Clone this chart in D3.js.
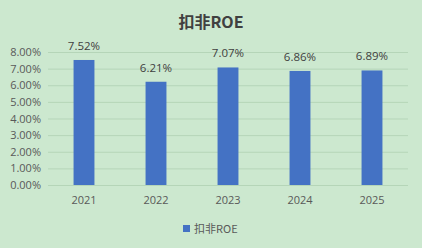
<!DOCTYPE html>
<html lang="zh">
<head>
<meta charset="utf-8">
<title>扣非ROE</title>
<script src="https://d3js.org/d3.v7.min.js"></script>
<style>
  body { margin: 0; background: #cce8cf; }
  svg { display: block; font-family: "Noto Sans CJK SC", "Open Sans", sans-serif; }
</style>
</head>
<body>
<svg id="chart" width="422" height="248"></svg>
<script>
// data
var years = ["2021", "2022", "2023", "2024", "2025"];
var roe = [7.52, 6.21, 7.07, 6.86, 6.89];
var yTicks = [0, 1, 2, 3, 4, 5, 6, 7, 8];

var svg = d3.select("#chart");
var w = 422, h = 248;
var plotLeft = 48, plotRight = 408, plotTop = 52, plotBottom = 185;

svg.append("rect").attr("width", w).attr("height", h).attr("fill", "#cce8cf");

var x = d3.scaleBand().domain(years).range([plotLeft, plotRight]).paddingInner(0.71).paddingOuter(0.355);
var y = d3.scaleLinear().domain([0, 8]).range([plotBottom, plotTop]);

// gridlines
svg.append("g")
  .selectAll("line")
  .data(yTicks)
  .enter()
  .append("line")
  .attr("x1", plotLeft).attr("x2", plotRight)
  .attr("y1", function(d) { return y(d) + 0.5; })
  .attr("y2", function(d) { return y(d) + 0.5; })
  .attr("stroke", "#b5d5b8")
  .attr("stroke-width", 1);

// y axis
var yAxis = d3.axisLeft(y).tickValues(yTicks).tickSize(0).tickPadding(0)
  .tickFormat(function(d) { return d.toFixed(2) + "%"; });
svg.append("g")
  .attr("transform", "translate(41,0)")
  .call(yAxis)
  .call(function(g) { g.select(".domain").remove(); })
  .selectAll("text")
  .attr("fill", "#595959")
  .attr("font-size", "11px")
  .attr("font-family", "Open Sans, sans-serif");

// x axis
var xAxis = d3.axisBottom(x).tickSize(0).tickPadding(0);
svg.append("g")
  .attr("transform", "translate(0,196)")
  .call(xAxis)
  .call(function(g) { g.select(".domain").remove(); })
  .selectAll("text")
  .attr("fill", "#595959")
  .attr("font-size", "11px")
  .attr("font-family", "Open Sans, sans-serif");

// bars
svg.selectAll("rect.bar")
  .data(roe)
  .enter()
  .append("rect")
  .attr("class", "bar")
  .attr("x", function(d, i) { return x(years[i]); })
  .attr("y", function(d) { return y(d); })
  .attr("width", x.bandwidth())
  .attr("height", function(d) { return y(0) - y(d); })
  .attr("fill", "#4472c4");

// value labels
svg.selectAll("text.val")
  .data(roe)
  .enter()
  .append("text")
  .attr("class", "val")
  .attr("x", function(d, i) { return x(years[i]) + x.bandwidth() / 2; })
  .attr("y", function(d) { return y(d) - 10; })
  .attr("text-anchor", "middle")
  .attr("font-size", "11.5px")
  .attr("font-family", "Open Sans, sans-serif")
  .attr("fill", "#404040")
  .text(function(d) { return d.toFixed(2) + "%"; });

// title
svg.append("text")
  .attr("x", 211).attr("y", 28)
  .attr("text-anchor", "middle")
  .attr("font-size", "16px")
  .attr("font-weight", "bold")
  .attr("fill", "#404040")
  .text("扣非ROE");

// legend
svg.append("rect")
  .attr("x", 183).attr("y", 225)
  .attr("width", 7).attr("height", 7)
  .attr("fill", "#4472c4");
svg.append("text")
  .attr("x", 194).attr("y", 233)
  .attr("font-size", "11px")
  .attr("fill", "#595959")
  .text("扣非ROE");
</script>
</body>
</html>
